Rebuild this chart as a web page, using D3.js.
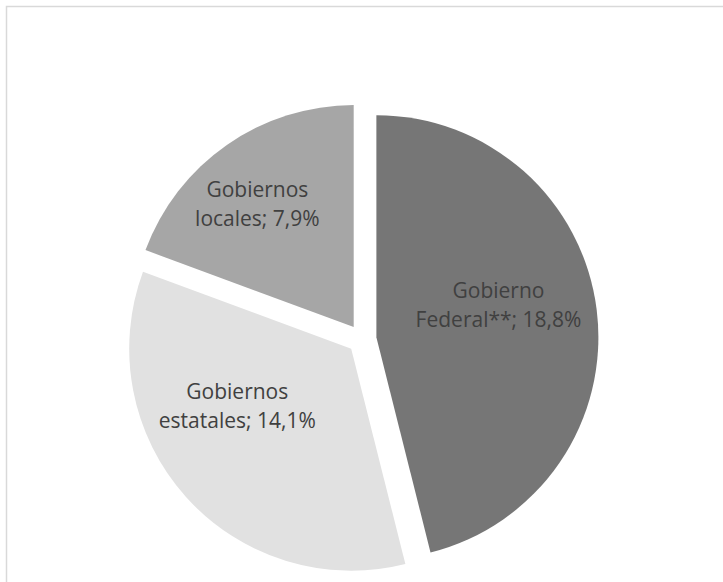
<!DOCTYPE html>
<html>
<head>
<meta charset="utf-8">
<script src="https://cdn.jsdelivr.net/npm/d3@7"></script>
<style>
  html, body { margin: 0; padding: 0; background: #ffffff; }
  svg { display: block; }
</style>
</head>
<body>
<svg id="chart" width="723" height="582"></svg>
<script>
// Distribución por nivel de gobierno
const categories = ["Gobierno Federal**", "Gobiernos estatales", "Gobiernos locales"];
const values = [18.8, 14.1, 7.9];
const colors = ["#767676", "#e1e1e1", "#a6a6a6"];

const width = 723, height = 582;
const cx = 362, cy = 339;
const radius = 222;
const explode = 14.5;
const labelRadius = 0.62 * radius;
// fine placement of each two-line label around its centroid
const labelNudge = [[-14.5, -7.5], [-11.5, -27.4], [-17.7, -2.5]];

const svg = d3.select("#chart");

// chart area frame
svg.append("rect")
  .attr("x", 6.5).attr("y", 6.5)
  .attr("width", 800).attr("height", 800)
  .attr("fill", "#ffffff")
  .attr("stroke", "#d9d9d9")
  .attr("stroke-width", 1.5);

const data = categories.map((c, i) => ({ name: c, value: values[i], color: colors[i] }));

const pie = d3.pie().sort(null).value(d => d.value).startAngle(0).endAngle(2 * Math.PI);
const arcs = pie(data);

const arc = d3.arc().innerRadius(0).outerRadius(radius);
const labelArc = d3.arc().innerRadius(labelRadius).outerRadius(labelRadius);

const fmt = v => d3.format(".1f")(v).replace(".", ",") + "%";

const g = svg.append("g").attr("transform", `translate(${cx},${cy})`);

const slices = g.selectAll("g.slice")
  .data(arcs)
  .join("g")
  .attr("class", "slice")
  .attr("transform", d => {
    const mid = (d.startAngle + d.endAngle) / 2;
    return `translate(${Math.sin(mid) * explode},${-Math.cos(mid) * explode})`;
  });

slices.append("path")
  .attr("d", arc)
  .attr("fill", d => d.data.color);

slices.each(function (d, i) {
  const [lx, ly] = labelArc.centroid(d);
  const x = lx + labelNudge[i][0];
  const y = ly + labelNudge[i][1];
  const words = d.data.name.split(" ");
  const line1 = words[0];
  const line2 = words.slice(1).join(" ") + "; " + fmt(d.data.value);
  const t = d3.select(this).append("text")
    .attr("text-anchor", "middle")
    .attr("font-family", "'Open Sans', sans-serif")
    .attr("font-size", 21)
    .attr("fill", "#404040");
  t.append("tspan").attr("x", x).attr("y", y - 14.5).text(line1);
  t.append("tspan").attr("x", x).attr("y", y + 14.5).text(line2);
});
</script>
</body>
</html>
